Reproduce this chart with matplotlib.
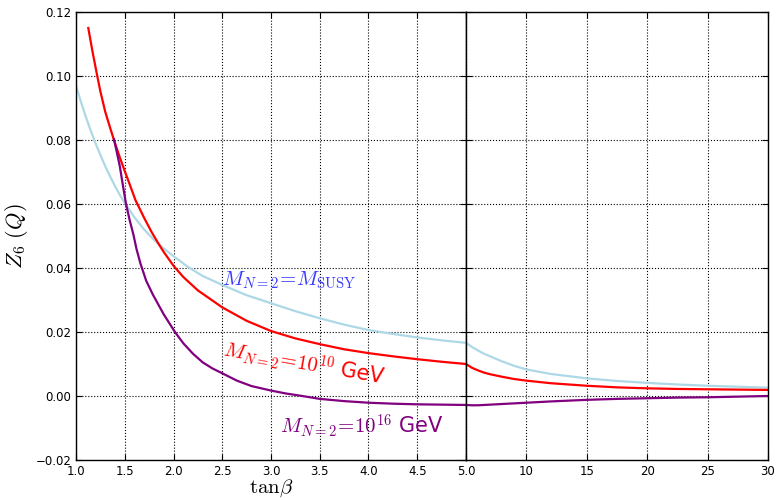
import numpy as np
import matplotlib
matplotlib.use("Agg")
import matplotlib.pyplot as plt

plt.rcParams['mathtext.fontset'] = 'cm'
plt.rcParams['font.family'] = 'DejaVu Sans'

# linker Teil: tan(beta) von 1 bis 5
tb_susy_l = [1.0, 1.05, 1.1, 1.15, 1.2, 1.25, 1.3, 1.35, 1.4, 1.45, 1.5, 1.6, 1.7, 1.8, 1.9, 2.0,
             2.15, 2.3, 2.5, 2.75, 3.0, 3.25, 3.5, 3.75, 4.0, 4.25, 4.5, 4.75, 5.0]
z6_susy_l = [0.097, 0.092, 0.0873, 0.083, 0.079, 0.0753, 0.0718, 0.0686, 0.0656, 0.0628, 0.0603,
             0.0558, 0.052, 0.0488, 0.0461, 0.0437, 0.0403, 0.0375, 0.0347, 0.0315, 0.029, 0.0265,
             0.0243, 0.0223, 0.0206, 0.0194, 0.0183, 0.0174, 0.0166]

tb_1010_l = [1.126, 1.17, 1.218, 1.25, 1.3, 1.35, 1.4, 1.45, 1.5, 1.55, 1.61, 1.7, 1.776, 1.85, 1.9,
             2.0, 2.1, 2.25, 2.5, 2.75, 3.0, 3.25, 3.5, 3.75, 4.0, 4.25, 4.5, 4.75, 5.0]
z6_1010_l = [0.115, 0.1075, 0.100, 0.0952, 0.0888, 0.0838, 0.0790, 0.0745, 0.0703, 0.0662, 0.0612,
             0.0556, 0.0512, 0.0474, 0.0450, 0.0407, 0.0372, 0.0330, 0.0277, 0.0235, 0.0203, 0.018,
             0.0162, 0.0146, 0.0134, 0.0124, 0.0115, 0.0107, 0.0100]

tb_1016_l = [1.39, 1.42, 1.45, 1.48, 1.513, 1.55, 1.59, 1.62, 1.66, 1.72, 1.79, 1.9, 2.015, 2.1, 2.2,
             2.3, 2.4, 2.5, 2.65, 2.8, 3.0, 3.15, 3.3, 3.5, 3.75, 4.0, 4.25, 4.5, 4.75, 5.0]
z6_1016_l = [0.0802, 0.076, 0.0717, 0.066, 0.060, 0.055, 0.0503, 0.046, 0.0415, 0.036, 0.0316,
             0.0255, 0.020, 0.0165, 0.0132, 0.0105, 0.0086, 0.0071, 0.0048, 0.0031, 0.0017, 0.0008,
             0.0001, -0.0009, -0.0016, -0.0021, -0.0024, -0.0026, -0.0027, -0.0028]

# rechter Teil: tan(beta) von 5 bis 30
tb_r = [5.0, 5.5, 6.0, 6.5, 7.0, 8.0, 9.0, 10.0, 12.0, 15.0, 17.5, 20.0, 22.5, 25.0, 27.5, 30.0]
z6_susy_r = [0.0166, 0.0153, 0.0142, 0.0132, 0.0124, 0.0108, 0.0094, 0.0083, 0.0069, 0.0055,
             0.0047, 0.0041, 0.0036, 0.0032, 0.0029, 0.0026]
z6_1010_r = [0.0100, 0.0088, 0.0080, 0.0073, 0.0068, 0.0060, 0.0053, 0.0048, 0.0040, 0.0032,
             0.0027, 0.0024, 0.0022, 0.0021, 0.0020, 0.0019]
z6_1016_r = [-0.0028, -0.0029, -0.0029, -0.0028, -0.0027, -0.0025, -0.0023, -0.0021, -0.0017,
             -0.0012, -0.0009, -0.0007, -0.0005, -0.0004, -0.0002, 0.0000]

yticks = [-0.02, 0.00, 0.02, 0.04, 0.06, 0.08, 0.10, 0.12]
xticks_l = [1.0, 1.5, 2.0, 2.5, 3.0, 3.5, 4.0, 4.5, 5.0]
xticks_r = [5, 10, 15, 20, 25, 30]

fig = plt.figure(figsize=(7.77, 5.0), dpi=100)
W, H = 777.0, 500.0
ax1 = fig.add_axes([76/W, 1-460/H, (466-76)/W, (460-12)/H])
ax2 = fig.add_axes([466/W, 1-460/H, (768-466)/W, (460-12)/H])

lw = 1.6
for ax, x_s, y_s, x_a, y_a, x_b, y_b in [
        (ax1, tb_susy_l, z6_susy_l, tb_1010_l, z6_1010_l, tb_1016_l, z6_1016_l),
        (ax2, tb_r, z6_susy_r, tb_r, z6_1010_r, tb_r, z6_1016_r)]:
    ax.plot(x_s, y_s, color='lightblue', lw=lw)
    ax.plot(x_a, y_a, color='red', lw=lw)
    ax.plot(x_b, y_b, color='purple', lw=lw)
    ax.set_ylim(-0.02, 0.12)
    ax.set_yticks(yticks)
    ax.grid(True, color='black', linestyle=':', linewidth=0.8)
    ax.tick_params(direction='in', top=True, right=True, labelsize=8.5, length=4)
    for s in ax.spines.values():
        s.set_linewidth(1.0)

ax1.set_xlim(1.0, 5.0)
ax1.set_xticks(xticks_l)
ax1.set_xticklabels(["%.1f" % v for v in xticks_l])
ax1.set_yticklabels(["%.2f" % v if v >= 0 else "\u22120.02" for v in yticks])
ax2.set_xlim(5, 30)
ax2.set_xticks(xticks_r)
ax2.set_xticklabels([""] + [str(v) for v in xticks_r[1:]])
ax2.set_yticklabels([])

ax1.set_xlabel(r'$\mathrm{tan}\beta$', fontsize=15, labelpad=0)
ax1.set_ylabel(r'$Z_6\,\,(Q)$', fontsize=16)

ax1.text(2.5, 0.0345, r'$M_{N=2}\!=\!M_{\rm SUSY}$', color='#3a3aff', fontsize=15)
ax1.text(2.5, 0.0125, r'$M_{N=2}\!=\!10^{10}$ GeV', color='red', fontsize=15,
         rotation=-10, rotation_mode='anchor', va='baseline')
ax1.text(3.09, -0.0115, r'$M_{N=2}\!=\!10^{16}$ GeV', color='purple', fontsize=15)

plt.savefig("out.png", dpi=100)
